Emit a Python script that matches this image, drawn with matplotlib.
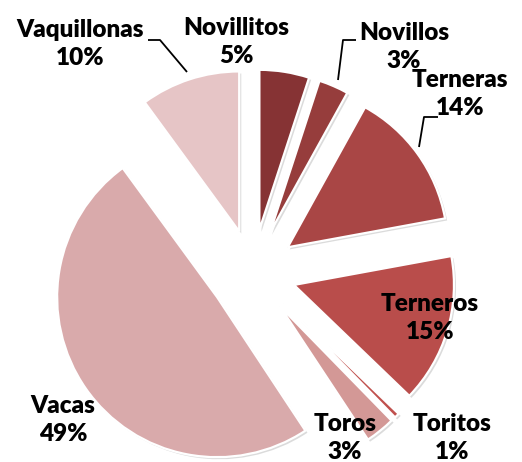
import matplotlib
matplotlib.use("Agg")
import matplotlib.pyplot as plt
import matplotlib.patheffects as pe

# ---- data ----
categories = ["Novillitos", "Novillos", "Terneras", "Terneros", "Toritos", "Toros", "Vacas", "Vaquillonas"]
shares = [5, 3, 14, 15, 0.5, 3, 49, 10]
pct_labels = ["5%", "3%", "14%", "15%", "1%", "3%", "49%", "10%"]

# ---- style / layout ----
colors = ["#863334", "#963D3C", "#A94645", "#B94D4B", "#C0504D", "#D39896", "#D9AAAB", "#E6C5C6"]
explode = [0.27] * len(categories)

W, H = 522, 462
R_PX = 160.0
CX, CY = 252.6, 272.5  # pie centre in pixels


def px(x, y):
    return (x - CX) / R_PX, (CY - y) / R_PX


# label centres (pixel coords in the image)
label_pos_px = [(236, 42), (404, 47), (460, 94), (430, 318), (452, 438), (345, 438), (63, 420), (80, 44)]
# leader lines (pixel coords)
leaders_px = {
    "Vaquillonas": [(148, 40), (160, 40), (187, 72)],
    "Novillos": [(356, 40), (343, 40), (338, 80)],
    "Terneras": [(438, 117), (424, 117), (419, 147)],
}

fig = plt.figure(figsize=(W / 100, H / 100), dpi=100)
ax = fig.add_axes([0, 0, 1, 1])
x0, y0 = px(0, H)
x1, y1 = px(W, 0)

wedges, _ = ax.pie(
    shares,
    colors=colors,
    explode=explode,
    startangle=90,
    counterclock=False,
    radius=1.0,
    center=(0, 0),
    frame=True,
    wedgeprops=dict(edgecolor="white", linewidth=1.6),
)
for w in wedges:
    w.set_path_effects([pe.SimplePatchShadow(offset=(1.5, -1.5), shadow_rgbFace="#999999", alpha=0.35), pe.Normal()])
ax.set_xlim(x0, x1)
ax.set_ylim(y0, y1)
ax.set_aspect("equal")
ax.axis("off")

for name, pct, pos in zip(categories, pct_labels, label_pos_px):
    tx, ty = px(*pos)
    ax.text(tx, ty, f"{name}\n{pct}", ha="center", va="center", fontsize=17.5,
            fontweight="heavy", family=["Lato", "DejaVu Sans"], color="black",
            linespacing=1.3)

for name, pts in leaders_px.items():
    xs, ys = zip(*[px(*p) for p in pts])
    ax.plot(xs, ys, color="black", linewidth=1.3, solid_capstyle="butt")

fig.savefig("out.png", dpi=100)
